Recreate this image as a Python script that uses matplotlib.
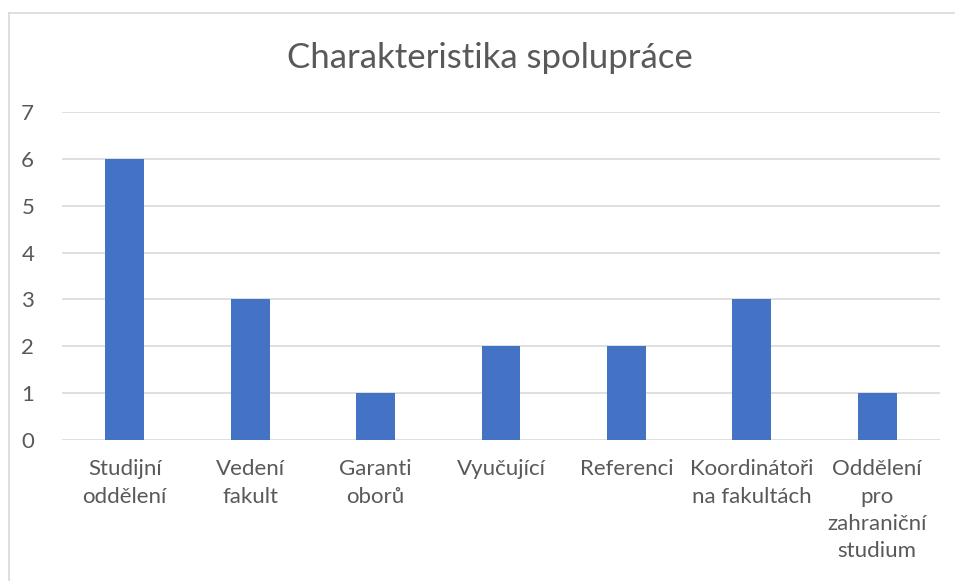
import numpy as np
import matplotlib.pyplot as plt
from matplotlib.lines import Line2D

# data
categories = ['Studijní\noddělení', 'Vedení\nfakult', 'Garanti\noborů', 'Vyučující',
              'Referenci', 'Koordinátoři\nna fakultách', 'Oddělení\npro\nzahraniční\nstudium']
values = [6, 3, 1, 2, 2, 3, 1]
yticks = [0, 1, 2, 3, 4, 5, 6, 7]

plt.rcParams['font.family'] = ['Lato', 'DejaVu Sans']

fig = plt.figure(figsize=(9.55, 5.81), dpi=100)
W, H = 955, 581
ax = fig.add_axes([62 / W, 1 - 440 / H, (940 - 62) / W, (440 - 112) / H])

x = np.arange(len(categories))
ax.bar(x, values, width=0.31, color='#4472C4', zorder=3)

ax.set_xlim(-0.5, len(categories) - 0.5)
ax.set_ylim(0, 7)
ax.set_yticks(yticks)
ax.set_xticks(x)
ax.set_xticklabels(categories, linespacing=1.45)
ax.grid(axis='y', color='#D9D9D9', linewidth=1.2, zorder=0)
for s in ax.spines.values():
    s.set_visible(False)
ax.tick_params(length=0, labelsize=16, colors='#595959')
ax.tick_params(axis='y', pad=20)
ax.tick_params(axis='x', pad=14)

fig.text(490 / W, 1 - 58 / H, 'Charakteristika spolupráce', ha='center', va='center',
         fontsize=25, color='#595959')

# chart border (top and left)
fig.add_artist(Line2D([9 / W, 1], [1 - 13 / H, 1 - 13 / H], color='#D9D9D9', lw=1.2))
fig.add_artist(Line2D([9 / W, 9 / W], [0, 1 - 13 / H], color='#D9D9D9', lw=1.2))

fig.savefig('out.png', dpi=100)
